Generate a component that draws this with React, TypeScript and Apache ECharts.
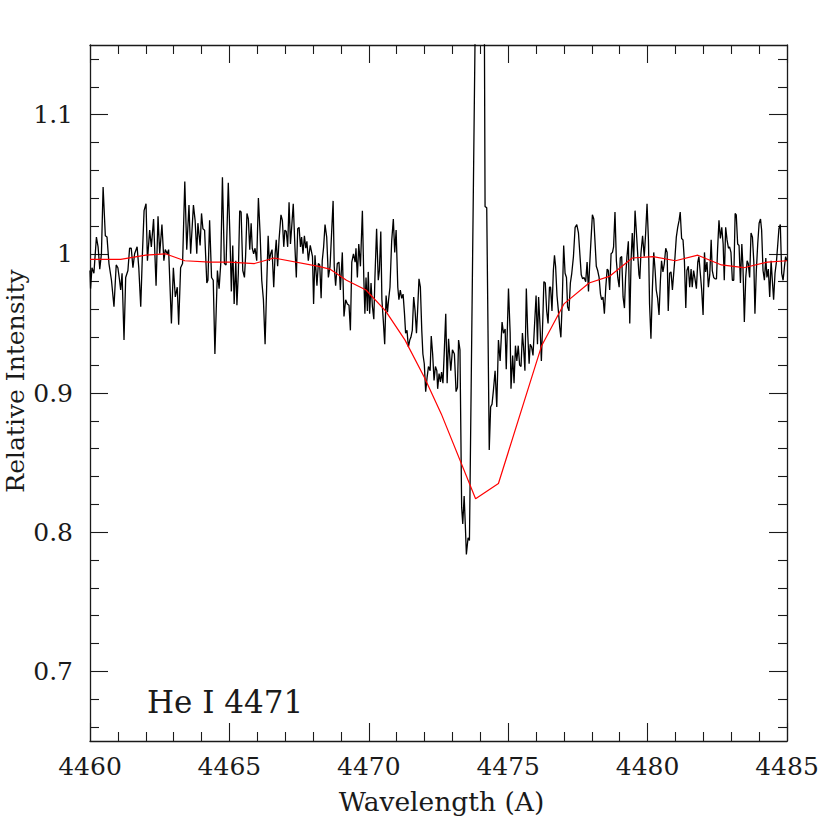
import React, { useEffect, useRef } from "react";
import * as echarts from "echarts";

// Observed spectrum: wavelength (Angstrom) and relative intensity
const wavelength = [
  4460.00, 4460.02, 4460.07, 4460.14, 4460.23, 4460.29, 4460.35, 4460.41, 4460.47, 4460.55,
  4460.61, 4460.68, 4460.77, 4460.86, 4460.94, 4461.00, 4461.06, 4461.10, 4461.15, 4461.22,
  4461.28, 4461.36, 4461.42, 4461.48, 4461.54, 4461.60, 4461.69, 4461.75, 4461.82, 4461.88,
  4461.94, 4462.01, 4462.06, 4462.14, 4462.20, 4462.28, 4462.37, 4462.44, 4462.50, 4462.58,
  4462.65, 4462.70, 4462.77, 4462.82, 4462.92, 4462.99, 4463.06, 4463.13, 4463.18, 4463.25,
  4463.32, 4463.40, 4463.47, 4463.55, 4463.61, 4463.71, 4463.77, 4463.83, 4463.87, 4463.95,
  4464.00, 4464.05, 4464.11, 4464.19, 4464.23, 4464.29,
  4464.36, 4464.42, 4464.48, 4464.57, 4464.63, 4464.69, 4464.75, 4464.82, 4464.88, 4464.96,
  4465.02, 4465.07, 4465.12, 4465.17, 4465.23, 4465.27, 4465.32, 4465.37, 4465.42, 4465.48,
  4465.54, 4465.58, 4465.63, 4465.68, 4465.73, 4465.78, 4465.82, 4465.87, 4465.92, 4465.98,
  4466.04, 4466.10, 4466.16, 4466.22, 4466.28, 4466.34, 4466.39, 4466.43, 4466.48, 4466.53,
  4466.59, 4466.64, 4466.68, 4466.73, 4466.78, 4466.85, 4466.90, 4466.95, 4466.99, 4467.04,
  4467.09, 4467.14, 4467.19, 4467.23, 4467.29, 4467.35, 4467.40, 4467.45, 4467.50, 4467.55,
  4467.59, 4467.64, 4467.69, 4467.74, 4467.78, 4467.83, 4467.90, 4467.98, 4468.02, 4468.07,
  4468.14, 4468.19, 4468.24, 4468.29, 4468.33, 4468.38, 4468.43, 4468.49, 4468.55,
  4468.61, 4468.72, 4468.76, 4468.81, 4468.87, 4468.93, 4468.98, 4469.05, 4469.11, 4469.17,
  4469.23, 4469.29, 4469.34, 4469.39, 4469.45, 4469.51, 4469.54, 4469.59, 4469.64, 4469.70,
  4469.77, 4469.82, 4469.86, 4469.90, 4469.95, 4469.98, 4470.03, 4470.08, 4470.13, 4470.18,
  4470.22, 4470.28, 4470.34, 4470.38, 4470.43, 4470.47, 4470.52, 4470.57, 4470.62, 4470.67,
  4470.71, 4470.76, 4470.82, 4470.88, 4470.93, 4470.98, 4471.04, 4471.08, 4471.13, 4471.18,
  4471.23, 4471.28, 4471.32, 4471.37, 4471.42, 4471.47, 4471.51, 4471.56, 4471.61, 4471.66,
  4471.71, 4471.75, 4471.80, 4471.85, 4471.90, 4471.94, 4471.99, 4472.04, 4472.09, 4472.14,
  4472.20, 4472.24, 4472.29, 4472.34, 4472.39, 4472.44, 4472.47, 4472.52, 4472.57, 4472.61,
  4472.66, 4472.71, 4472.76, 4472.81,
  4472.86, 4472.94, 4473.00, 4473.07, 4473.13, 4473.18, 4473.22, 4473.27, 4473.33, 4473.37,
  4473.42, 4473.46, 4473.50, 4473.56, 4473.61, 4473.92, 4474.02, 4474.12, 4474.17, 4474.23,
  4474.32, 4474.37, 4474.42, 4474.47, 4474.53, 4474.59, 4474.65, 4474.71, 4474.78, 4474.83,
  4474.89, 4474.93, 4475.01, 4475.07, 4475.10, 4475.16, 4475.21, 4475.26, 4475.31, 4475.36,
  4475.41, 4475.46, 4475.51, 4475.55, 4475.60, 4475.65, 4475.70, 4475.75, 4475.79, 4475.84,
  4475.89, 4475.94, 4476.00, 4476.05, 4476.09, 4476.14, 4476.19, 4476.24, 4476.28, 4476.33,
  4476.38, 4476.43, 4476.48, 4476.52, 4476.57, 4476.62, 4476.66, 4476.70, 4476.75, 4476.80,
  4476.85, 4476.89, 4476.94, 4476.99, 4477.04, 4477.09, 4477.13, 4477.18, 4477.23, 4477.28,
  4477.34, 4477.40, 4477.46, 4477.52, 4477.58, 4477.62, 4477.67, 4477.72, 4477.78, 4477.83,
  4477.88, 4477.92, 4477.97, 4478.02, 4478.07, 4478.11, 4478.16, 4478.21, 4478.26, 4478.31,
  4478.35, 4478.40, 4478.45, 4478.50, 4478.55, 4478.59, 4478.64, 4478.69, 4478.74, 4478.78,
  4478.83, 4478.88, 4478.93, 4478.98, 4479.02, 4479.07, 4479.12, 4479.17, 4479.21, 4479.26,
  4479.31, 4479.36, 4479.41, 4479.45, 4479.50, 4479.55, 4479.60, 4479.65, 4479.69,
  4479.72, 4479.76, 4479.82, 4479.88, 4479.93, 4479.98, 4480.03, 4480.07, 4480.12, 4480.17,
  4480.22, 4480.27, 4480.31, 4480.36, 4480.41, 4480.46, 4480.50, 4480.55, 4480.60, 4480.65,
  4480.70, 4480.74, 4480.79, 4480.84, 4480.89, 4480.94, 4480.98, 4481.03, 4481.08, 4481.13,
  4481.17, 4481.22, 4481.27, 4481.32, 4481.37, 4481.41, 4481.46, 4481.51, 4481.56, 4481.60,
  4481.65, 4481.70, 4481.75, 4481.80, 4481.84, 4481.89, 4481.94, 4481.99, 4482.04, 4482.08,
  4482.13, 4482.18, 4482.23, 4482.28, 4482.32, 4482.37, 4482.42, 4482.47, 4482.51, 4482.56,
  4482.61, 4482.66, 4482.71, 4482.75, 4482.80, 4482.85, 4482.90, 4482.94, 4482.99, 4483.04,
  4483.09, 4483.14, 4483.18, 4483.23, 4483.28, 4483.33, 4483.38, 4483.42, 4483.47, 4483.52,
  4483.57, 4483.61, 4483.66, 4483.71, 4483.76, 4483.81, 4483.85, 4483.90, 4483.95, 4484.00,
  4484.05, 4484.09, 4484.14, 4484.19, 4484.24, 4484.28, 4484.33, 4484.38, 4484.43, 4484.48,
  4484.52, 4484.57, 4484.62, 4484.67, 4484.71, 4484.76, 4484.81, 4484.86, 4484.91, 4484.95,
  4485.00,
];

const intensity = [
  0.988, 0.975, 0.990, 0.986, 1.012, 1.005, 0.989, 1.000, 1.048, 1.013,
  1.012, 0.993, 0.981, 0.962, 0.992, 0.990, 0.981, 0.974, 0.986, 0.938,
  0.983, 0.988, 1.004, 1.004, 0.990, 1.000, 1.005, 0.990, 0.962, 1.000,
  1.031, 1.036, 0.995, 1.017, 1.005, 1.025, 0.977, 1.027, 1.000, 1.021,
  0.995, 1.003, 1.000, 1.003, 0.950, 0.990, 0.969, 0.976, 0.949, 0.990,
  0.993, 1.052, 1.003, 1.035, 1.000, 1.035, 1.024, 1.000, 1.022, 1.006,
  1.029, 1.018, 1.017, 0.979, 0.981, 1.024,
  0.983, 0.981, 0.928, 0.988, 0.975, 0.993, 1.055, 0.993, 0.992, 1.051,
  1.012, 0.973, 1.006, 0.964, 0.995, 0.963, 0.986, 1.031, 1.030, 0.988,
  0.983, 0.998, 1.029, 1.025, 1.003, 1.022, 1.004, 1.000, 1.004, 0.995,
  1.040, 1.015, 0.981, 0.967, 0.935, 0.979, 1.013, 0.995, 1.000, 1.003,
  0.976, 1.000, 1.010, 0.991, 1.010, 1.028, 1.024, 1.005, 1.017, 1.016,
  1.005, 1.037, 1.007, 1.018, 1.036, 1.005, 0.983, 1.018, 1.019, 1.005,
  1.012, 1.000, 1.013, 1.004, 1.009, 0.995, 1.006, 0.998, 0.964, 0.999,
  0.977, 0.993, 0.992, 0.968, 0.995, 1.005, 1.021, 1.012, 0.983,
  0.991, 1.038, 0.991, 0.977, 0.993, 0.994, 0.974, 1.001, 0.955, 0.967,
  0.964, 0.963, 0.945, 0.994, 1.000, 0.994, 1.004, 0.983, 1.007, 0.991,
  1.031, 0.983, 0.957, 0.983, 0.959, 0.987, 0.957, 0.979, 0.962, 0.953,
  0.983, 1.018, 0.981, 0.988, 1.016, 0.967, 0.952, 0.935, 0.970, 0.958,
  0.967, 0.976, 1.009, 1.025, 1.001, 1.017, 0.976, 0.967, 0.974, 0.968,
  0.971, 0.957, 0.943, 0.945, 0.933, 0.938, 0.940, 0.945, 0.969, 0.959,
  0.943, 0.959, 0.982, 0.976, 0.945, 0.928, 0.921, 0.901, 0.911, 0.919,
  0.916, 0.941, 0.928, 0.909, 0.919, 0.916, 0.903, 0.914, 0.908, 0.915,
  0.907, 0.931, 0.957, 0.907,
  0.939, 0.916, 0.931, 0.928, 0.901, 0.904, 0.938, 0.931, 0.818, 0.806,
  0.826, 0.806, 0.784, 0.796, 0.794, 1.350, 1.380, 1.300, 1.034, 1.033,
  0.859, 0.890, 0.892, 0.902, 0.916, 0.890, 0.938, 0.923, 0.951, 0.943,
  0.946, 0.917, 0.975, 0.943, 0.903, 0.927, 0.907, 0.934, 0.923, 0.934,
  0.920, 0.919, 0.943, 0.933, 0.916, 0.975, 0.943, 0.921, 0.935, 0.933,
  0.927, 0.947, 0.970, 0.935, 0.969, 0.949, 0.923, 0.952, 0.980, 0.979,
  0.959, 0.950, 0.976, 0.976, 0.959, 0.988, 0.999, 0.991, 0.970, 0.959,
  0.947, 0.940, 0.967, 1.006, 0.986, 0.983, 0.962, 0.959, 0.979, 0.986,
  0.998, 1.019, 1.021, 1.015, 0.997, 0.985, 0.982, 0.983, 0.980, 0.994,
  0.973, 0.991, 1.010, 1.028, 1.025, 1.010, 0.991, 0.988, 0.983, 0.971,
  0.967, 0.969, 0.957, 0.976, 0.989, 0.988, 0.974, 1.000, 1.001, 1.005,
  1.030, 0.995, 0.983, 0.976, 0.997, 0.998, 0.969, 0.961, 0.983, 0.998,
  1.009, 0.950, 0.997, 1.015, 0.995, 1.031, 1.015, 0.998, 0.985,
  0.982, 1.000, 1.013, 0.998, 1.015, 1.036, 1.010, 0.964, 0.939, 0.974,
  1.001, 0.988, 0.974, 0.968, 0.956, 0.981, 0.995, 0.987, 0.993, 1.004,
  1.001, 0.959, 0.986, 0.987, 0.974, 0.987, 0.997, 1.012, 1.019, 1.024,
  1.030, 1.011, 1.010, 0.995, 0.961, 0.988, 0.991, 0.976, 0.989, 0.976,
  0.988, 0.982, 0.975, 0.994, 0.998, 0.986, 0.974, 0.956, 1.001, 0.987,
  0.994, 0.976, 0.985, 1.010, 0.988, 0.983, 0.982, 0.982, 1.003, 1.024,
  1.011, 1.019, 1.007, 0.981, 1.019, 1.010, 1.004, 1.005, 1.001, 0.981,
  0.981, 1.029, 1.028, 1.007, 1.006, 0.979, 1.007, 0.991, 0.951, 0.983,
  0.995, 0.993, 0.983, 1.015, 1.012, 0.994, 0.957, 0.988, 1.007, 1.022,
  1.025, 1.017, 0.988, 0.981, 0.997, 0.983, 0.989, 0.969, 0.995, 0.979,
  0.967, 0.986, 0.994, 1.007, 1.018, 1.021, 0.986, 0.981, 0.991, 0.998,
  0.995,
];

// Model profile (red)
const modelWavelength = [
  4460.0, 4461.1, 4462.0, 4462.7, 4463.4, 4464.3, 4465.0, 4465.9, 4466.6, 4468.2,
  4468.6, 4469.2, 4469.9, 4470.6, 4471.3, 4472.0, 4472.6, 4473.83, 4474.65, 4476.2,
  4477.0, 4477.9, 4478.65, 4479.45, 4480.2, 4481.0, 4481.8, 4482.65, 4483.45, 4484.3,
  4485.0,
];
const modelIntensity = [
  0.996, 0.996, 0.999, 1.000, 0.995, 0.994, 0.994, 0.993, 0.997, 0.991,
  0.989, 0.981, 0.974, 0.959, 0.938, 0.911, 0.885, 0.824, 0.835, 0.934,
  0.964, 0.979, 0.984, 0.997, 0.998, 0.995, 0.999, 0.992, 0.990, 0.994,
  0.995,
];

const yMajorTicks = [0.7, 0.8, 0.9, 1.0, 1.1];
const yMinorTicks = [
  0.66, 0.68, 0.72, 0.74, 0.76, 0.78, 0.82, 0.84, 0.86, 0.88,
  0.92, 0.94, 0.96, 0.98, 1.02, 1.04, 1.06, 1.08, 1.12, 1.14,
];

const lineLabel = "He I 4471";

const FONT = "DejaVu Serif";
const INK = "#1a1a1a";

export default function App() {
  const ref = useRef<HTMLDivElement>(null);
  useEffect(() => {
    if (!ref.current) return;
    const chart = echarts.init(ref.current, undefined, { renderer: "svg" });
    const spectrum = wavelength.map((w, i) => [w, intensity[i]]);
    const model = modelWavelength.map((w, i) => [w, modelIntensity[i]]);
    const axisLine = { show: true, onZero: false, lineStyle: { color: INK, width: 1.3 } };
    const tickStyle = { color: INK, width: 1.1 };
    const xCommon = {
      type: "value",
      min: 4460,
      max: 4485,
      interval: 5,
      splitLine: { show: false },
      minorSplitLine: { show: false },
      axisLine,
      axisTick: { show: true, inside: true, length: 18, lineStyle: tickStyle },
      minorTick: { show: true, splitNumber: 5, length: 9, lineStyle: tickStyle },
    };
    const yCommon = {
      type: "value",
      min: 0.65,
      max: 1.15,
      splitLine: { show: false },
    };
    chart.setOption({
      animation: false,
      grid: {
        left: 90,
        top: 45,
        width: 697,
        height: 696,
        containLabel: false,
        outerBoundsMode: "none",
      },
      xAxis: [
        {
          ...xCommon,
          position: "bottom",
          axisLabel: {
            show: true,
            fontFamily: FONT,
            fontSize: 25,
            color: INK,
            margin: 13,
            formatter: (v: number) => String(Math.round(v)),
          },
          name: "Wavelength (A)",
          nameLocation: "middle",
          nameGap: 47,
          nameMoveOverlap: false,
          nameTextStyle: { fontFamily: FONT, fontSize: 26.5, color: INK, padding: [0, 0, 0, 6] },
        },
        {
          ...xCommon,
          position: "top",
          axisLabel: { show: false },
        },
      ],
      yAxis: [
        {
          ...yCommon,
          position: "left",
          axisLine,
          axisTick: { show: true, inside: true, length: 18, lineStyle: tickStyle, customValues: yMajorTicks },
          axisLabel: {
            show: true,
            customValues: yMajorTicks,
            fontFamily: FONT,
            fontSize: 25,
            color: INK,
            margin: 17,
            formatter: (v: number) => String(Math.round(v * 100) / 100),
          },
          name: "Relative Intensity",
          nameLocation: "middle",
          nameGap: 62,
          nameRotate: 90,
          nameMoveOverlap: false,
          nameTextStyle: { fontFamily: FONT, fontSize: 25, color: INK, padding: [0, 0, 0, 24] },
        },
        {
          ...yCommon,
          position: "left",
          axisLine: { show: false, onZero: false },
          axisTick: { show: true, inside: true, length: 9, lineStyle: tickStyle, customValues: yMinorTicks },
          axisLabel: { show: false },
        },
        {
          ...yCommon,
          position: "right",
          axisLine,
          axisTick: { show: true, inside: true, length: 18, lineStyle: tickStyle, customValues: yMajorTicks },
          axisLabel: { show: false },
        },
        {
          ...yCommon,
          position: "right",
          axisLine: { show: false, onZero: false },
          axisTick: { show: true, inside: true, length: 9, lineStyle: tickStyle, customValues: yMinorTicks },
          axisLabel: { show: false },
        },
      ],
      series: [
        {
          type: "line",
          name: "Observed",
          xAxisIndex: 0,
          yAxisIndex: 0,
          data: spectrum,
          showSymbol: false,
          symbol: "none",
          clip: true,
          lineStyle: { color: "#000000", width: 1.3 },
          z: 2,
        },
        {
          type: "line",
          name: "Model",
          xAxisIndex: 0,
          yAxisIndex: 0,
          data: model,
          showSymbol: false,
          symbol: "none",
          clip: true,
          lineStyle: { color: "#ff0000", width: 1.2 },
          z: 3,
        },
      ],
      graphic: [
        {
          type: "text",
          left: 147,
          top: 686,
          style: {
            text: lineLabel,
            fontFamily: FONT,
            fontSize: 31,
            fill: INK,
          },
        },
      ],
    });
    return () => chart.dispose();
  }, []);
  return (
    <div
      ref={ref}
      style={{ position: "absolute", left: 0, top: 0, width: 830, height: 830, background: "#ffffff" }}
    />
  );
}
